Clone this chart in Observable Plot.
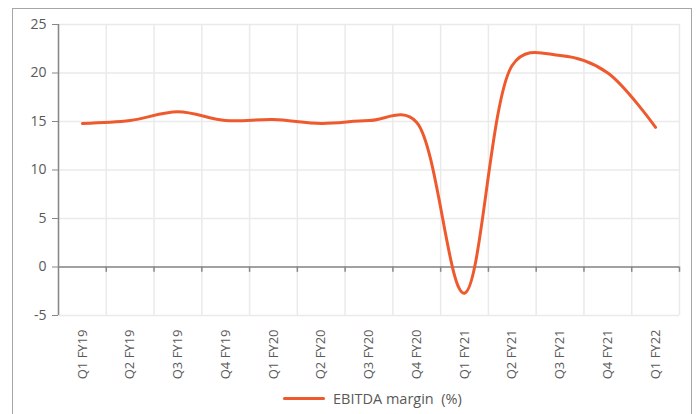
<!DOCTYPE html>
<html>
<head>
<meta charset="utf-8">
<script src="https://cdn.jsdelivr.net/npm/d3@7"></script>
<script src="https://cdn.jsdelivr.net/npm/@observablehq/plot@0.6"></script>
<style>
  body { margin: 0; background: #fff; }
  #wrap { position: relative; width: 696px; height: 414px; overflow: hidden; font-family: "Open Sans", sans-serif; }
  #frame { position: absolute; left: 12px; top: 8px; width: 680px; height: 420px; border: 1px solid #a6a6a6; box-sizing: border-box; }
  #chart { position: absolute; left: 0; top: 0; }
  #legend { position: absolute; left: 283px; top: 389px; display: flex; align-items: center; font-size: 14.5px; color: #595959; white-space: pre; }
  #legend .sw { width: 42px; height: 3px; background: #EE5A2E; border-radius: 2px; margin-right: 8px; }
</style>
</head>
<body>
<div id="wrap">
  <div id="frame"></div>
  <div id="chart"></div>
  <div id="legend"><span class="sw"></span><span>EBITDA margin  (%)</span></div>
</div>
<script>
const categories = ["Q1 FY19","Q2 FY19","Q3 FY19","Q4 FY19","Q1 FY20","Q2 FY20","Q3 FY20","Q4 FY20","Q1 FY21","Q2 FY21","Q3 FY21","Q4 FY21","Q1 FY22"];
const ebitdaMargin = [14.8, 15.1, 16.0, 15.1, 15.2, 14.8, 15.1, 14.9, -2.7, 20.8, 21.8, 20.0, 14.4];
const yTicks = [-5, 0, 5, 10, 15, 20, 25];

const data = categories.map((c, i) => ({i, c, v: ebitdaMargin[i]}));
const boundaries = d3.range(categories.length + 1).map(k => k - 0.5);

const chart = Plot.plot({
  width: 696,
  height: 380,
  marginLeft: 58,
  marginRight: 17,
  marginTop: 24,
  marginBottom: 65,
  style: {fontFamily: "Open Sans, sans-serif", fontSize: "13px", color: "#595959", background: "transparent"},
  x: {type: "linear", domain: [-0.5, categories.length - 0.5], label: null},
  y: {domain: [-5, 25], label: null},
  marks: [
    Plot.ruleY(yTicks, {stroke: "#eaeaea", strokeWidth: 1.5}),
    Plot.ruleX(boundaries, {y1: -5, y2: 25, stroke: "#eaeaea", strokeWidth: 1.5}),
    Plot.axisY({ticks: yTicks, tickFormat: d => String(d), tickSize: 6, tickPadding: 6, stroke: "#878787", fill: "#595959", fontSize: 14, label: null}),
    Plot.ruleX([-0.5], {y1: -5, y2: 25, stroke: "#878787", strokeWidth: 1.5}),
    Plot.axisX({ticks: d3.range(categories.length), tickFormat: i => categories[i], tickRotate: -90, tickSize: 0, tickPadding: 14, fill: "#595959", fontSize: 13, label: null}),
    Plot.ruleY([0], {stroke: "#878787", strokeWidth: 1.5}),
    Plot.ruleX(boundaries.slice(1), {y1: 0, y2: -0.55, stroke: "#878787", strokeWidth: 1.5}),
    Plot.line(data, {x: "i", y: "v", stroke: "#EE5A2E", strokeWidth: 3, curve: d3.curveCatmullRom.alpha(0.3)})
  ]
});
document.getElementById("chart").appendChild(chart);
</script>
</body>
</html>
